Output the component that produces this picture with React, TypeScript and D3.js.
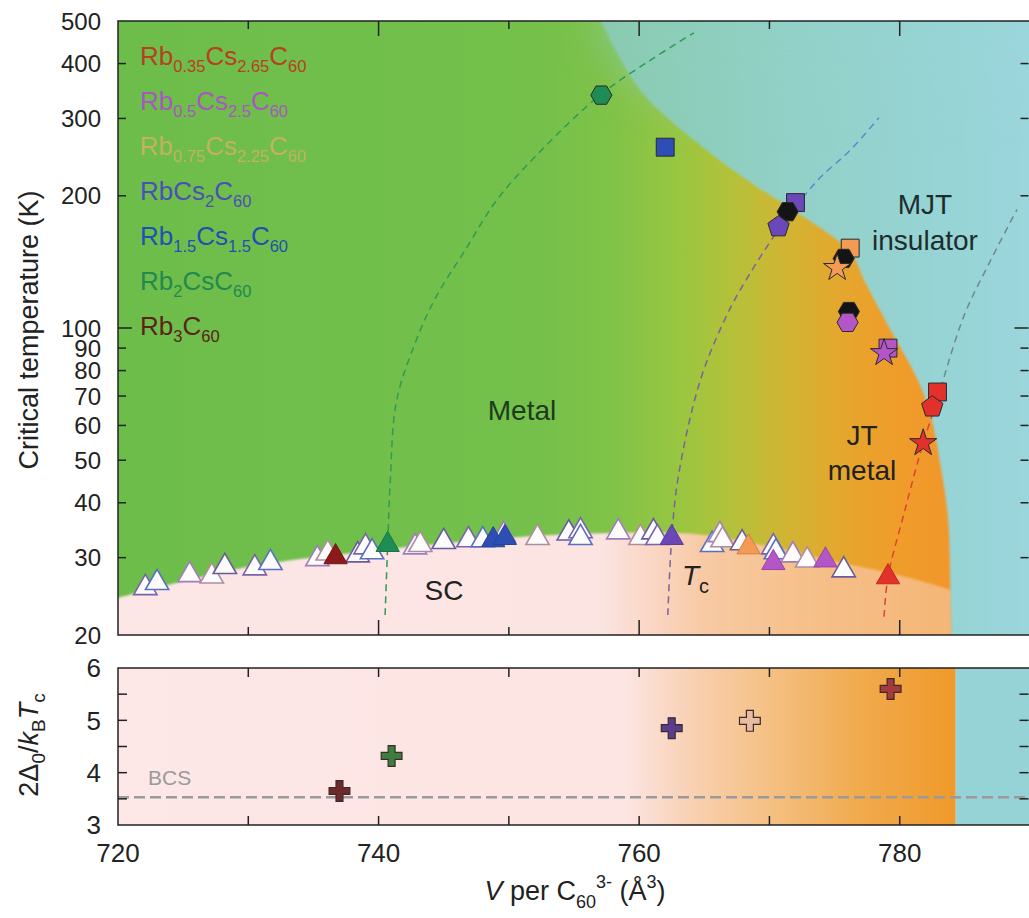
import * as d3 from 'd3';

const FONT = '"Liberation Sans", Arial, Helvetica, sans-serif';
const W = 1029;
const H = 918;

// ---- legend / compounds ----
const compoundKeys = ['Rb0.35', 'Rb0.5', 'Rb0.75', 'Rb1', 'Rb1.5', 'Rb2', 'Rb3'];
// parts starting with "_" are subscripts
const legendParts = [
  ['Rb', '_0.35', 'Cs', '_2.65', 'C', '_60'],
  ['Rb', '_0.5', 'Cs', '_2.5', 'C', '_60'],
  ['Rb', '_0.75', 'Cs', '_2.25', 'C', '_60'],
  ['RbCs', '_2', 'C', '_60'],
  ['Rb', '_1.5', 'Cs', '_1.5', 'C', '_60'],
  ['Rb', '_2', 'CsC', '_60'],
  ['Rb', '_3', 'C', '_60'],
];

// ---- Tc triangles (V per C60, K) ----
const tcOpen: [number, number][] = [
  [722.1, 25.6], [723.0, 26.3], [725.5, 27.4], [727.2, 27.2], [728.2, 28.6], [730.5, 28.4],
  [731.7, 29.2], [735.3, 29.8], [736.1, 30.7], [738.4, 30.4], [739.0, 31.7], [739.5, 30.9],
  [742.8, 31.7], [743.2, 32.1], [745.0, 32.6], [746.9, 32.9], [748.0, 32.9], [749.6, 33.8],
  [752.2, 33.3], [754.6, 34.1], [755.5, 34.5], [755.5, 33.3], [758.4, 34.3], [760.1, 33.3],
  [761.1, 34.3], [761.4, 33.3], [765.6, 32.1], [766.2, 33.8], [766.4, 32.9], [767.9, 32.4],
  [770.3, 31.7], [770.5, 30.9], [771.8, 30.4], [772.9, 29.6], [775.7, 28.1],
];
const tcFilledV = [736.7, 740.7, 748.8, 749.7, 762.5, 768.4, 770.3, 774.3, 779.1];
const tcFilledT = [30.1, 32.1, 32.9, 33.3, 33.3, 31.7, 29.2, 29.6, 27.1];
const tcFilledComp = ['Rb3', 'Rb2', 'Rb1.5', 'Rb1.5', 'Rb1', 'Rb0.75', 'Rb0.5', 'Rb0.5', 'Rb0.35'];

// ---- metal / insulator transition markers ----
const phaseV = [757.1, 762.0, 772.0, 771.4, 770.7, 776.2, 775.7, 775.2, 776.1, 776.0, 779.1, 778.8, 782.9, 782.5, 781.8];
const phaseT = [339, 258, 193, 184, 170, 152, 144, 137, 109, 103, 90, 87.7, 71.5, 66.1, 54.7];
const phaseShape = ['hexagon', 'square', 'square', 'hexagon', 'pentagon', 'square', 'hexagon', 'star',
  'hexagon', 'hexagon', 'square', 'star', 'square', 'pentagon', 'star'];
const phaseComp = ['Rb2', 'Rb1.5', 'Rb1', 'black', 'Rb1', 'Rb0.75', 'black', 'Rb0.75',
  'black', 'Rb0.5', 'Rb0.5', 'Rb0.5', 'Rb0.35', 'Rb0.35', 'Rb0.35'];

// ---- phase boundaries ----
const scBoundary: [number, number][] = [
  [720, 24.3], [730, 28.6], [740, 31.2], [750, 33.3], [756, 34.0], [762, 34.2],
  [765, 33.8], [770, 31.8], [775.5, 29.2], [780.5, 27.1], [784, 25.3],
];
const mjtBoundary: [number, number][] = [
  [756.8, 520], [758.4, 418], [760.4, 339], [764.9, 258], [769.1, 209], [771.8, 186],
  [776.2, 149], [777.3, 128], [779.3, 99], [781.4, 76], [782.4, 62.7], [783.1, 49.3],
  [783.7, 37.1], [783.9, 24.9], [784, 19],
];

// ---- dashed V(T) guide lines ----
const greenLine: [number, number][] = [
  [740.5, 22.2], [740.7, 32.1], [740.9, 45.1], [741.35, 67.5], [742.6, 89.1], [744.3, 116],
  [746.65, 150.5], [749.1, 196], [752.5, 254], [757.0, 339], [760.9, 408], [764.2, 470],
];
const purpleLineLow: [number, number][] = [
  [762.2, 22.2], [762.5, 33.3], [763.0, 45.8], [764.7, 76.1], [766.8, 108], [768.5, 133],
  [770.3, 161], [771.4, 179],
];
const purpleLineHigh: [number, number][] = [
  [771.4, 179], [773.7, 217], [776.2, 254], [778.4, 301],
];
const redLineLow: [number, number][] = [
  [778.8, 22.0], [779.1, 27.1], [780.4, 38.5], [781.8, 54.7], [782.9, 68.6],
];
const redLineHigh: [number, number][] = [
  [782.9, 68.6], [784.9, 106], [787.0, 143], [789.0, 186],
];

// ---- gap ratio panel ----
const gapV = [737.0, 741.0, 762.5, 768.5, 779.3];
const gapRatio = [3.65, 4.32, 4.85, 4.99, 5.6];
const gapComp = ['Rb3', 'Rb2', 'Rb1', 'Rb0.75', 'Rb0.35'];
const bcsValue = 3.53;

const tTicks = [20, 30, 40, 50, 60, 70, 80, 90, 100, 200, 300, 400, 500];
const gTicks = [3, 4, 5, 6];
const gMinor = [3.5, 4, 4.5, 5, 5.5];
const vTicks = [730, 740, 750, 760, 770, 780];
const vLabels = [720, 740, 760, 780];

// ---- styles ----
const compColor: Record<string, string> = {
  'Rb0.35': '#e2302b', 'Rb0.5': '#b455c8', 'Rb0.75': '#f39a55', Rb1: '#6a48b8',
  'Rb1.5': '#2d4fb5', Rb2: '#1e8c55', Rb3: '#8c1a1a', black: '#141414',
};
const legendTextColor = ['#b8401f', '#a956c0', '#e9ad6c', '#4a50b6', '#2150b4', '#23894e', '#5a2418'];
const legendOpacity = [1, 1, 0.7, 1, 1, 1, 1];
const crossColor: Record<string, string> = {
  Rb3: '#6e2a2a', Rb2: '#3e7d3e', Rb1: '#5a3e8e', 'Rb0.75': '#e8bca2', 'Rb0.35': '#a53a3c',
};
const openEdge = ['#7b62ad', '#5b6fc0', '#a07cc0', '#b08d9e', '#6a5aa0'];

const x = d3.scaleLinear().domain([720, 790]).range([118, 1030]);
const yT = d3.scaleLog().domain([20, 500]).range([635, 21]);
const yG = d3.scaleLinear().domain([3, 6]).range([825, 668]);

const symbolHexagon = {
  draw(ctx: d3.Path, size: number) {
    const r = Math.sqrt(size / (1.5 * Math.sqrt(3)));
    for (let i = 0; i < 6; i++) {
      const a = (Math.PI / 3) * i;
      if (i) ctx.lineTo(r * Math.cos(a), r * Math.sin(a));
      else ctx.moveTo(r * Math.cos(a), r * Math.sin(a));
    }
    ctx.closePath();
  },
};
const symbolPentagon = {
  draw(ctx: d3.Path, size: number) {
    const r = Math.sqrt(size / 2.378);
    for (let i = 0; i < 5; i++) {
      const a = -Math.PI / 2 + ((2 * Math.PI) / 5) * i;
      if (i) ctx.lineTo(r * Math.cos(a), r * Math.sin(a));
      else ctx.moveTo(r * Math.cos(a), r * Math.sin(a));
    }
    ctx.closePath();
  },
};
const shapeType: Record<string, any> = {
  hexagon: symbolHexagon, square: d3.symbolSquare, pentagon: symbolPentagon, star: d3.symbolStar,
};
const shapeSize: Record<string, number> = { hexagon: 290, square: 320, pentagon: 300, star: 230 };

const lineT = d3
  .line<[number, number]>()
  .x((d) => x(d[0]))
  .y((d) => yT(d[1]))
  .curve(d3.curveCatmullRom.alpha(0.5));

const gradStops = (arr: [number, string][]) =>
  arr.map(([v, c], i) => <stop key={i} offset={(v - 720) / 70} stopColor={c} />);

const metalStops: [number, string][] = [
  [720, '#6dbd4b'], [752, '#74c04b'], [758, '#80c348'], [763, '#98c640'], [767, '#b4c13a'],
  [771, '#cfb533'], [775, '#e3a82e'], [779, '#ee9e2b'], [784, '#f2962a'],
];
const scStops: [number, string][] = [
  [720, '#fce6e6'], [757, '#fce4e2'], [761, '#fad6c4'], [765, '#f8caa4'], [772, '#f6c18c'], [784, '#f4b676'],
];
const cyanStops: [number, string][] = [
  [752, '#86c7a4'], [762, '#8ccdb8'], [772, '#92d1c8'], [784, '#97d4d6'], [790, '#9bd6dc'],
];
const gapStops: [number, string][] = [
  [720, '#fde7e7'], [759, '#fce5e2'], [762, '#fad8c6'], [766, '#f7cba2'], [771, '#f4bd7c'],
  [777, '#f1aa4c'], [784.2, '#ef9a2a'],
];

const Legend = () => (
  <g fontFamily={FONT}>
    {legendParts.map((parts, i) => (
      <text key={i} x={140} y={65 + i * 45} fontSize={26} fill={legendTextColor[i]} opacity={legendOpacity[i]}>
        {parts.map((p, j) => {
          const sub = p.startsWith('_');
          const prevSub = j > 0 && parts[j - 1].startsWith('_');
          return (
            <tspan key={j} fontSize={sub ? 16.5 : 26} dy={sub ? 7 : prevSub ? -7 : 0}>
              {sub ? p.slice(1) : p}
            </tspan>
          );
        })}
      </text>
    ))}
  </g>
);

export default function App() {
  const scPath = `${lineT(scBoundary)}L${x(784)},${yT(19)}L${x(719)},${yT(19)}L${x(719)},${yT(24.3)}Z`;
  const cyanPath = `${lineT(mjtBoundary)}L${x(792)},${yT(19)}L${x(792)},${yT(520)}Z`;
  const top = { x0: x(720), x1: x(790), y0: yT(500), y1: yT(20) };
  const bot = { y0: yG(6), y1: yG(3) };

  return (
    <svg width={W} height={H} style={{ position: 'absolute', left: 0, top: 0, background: '#fff' }}>
      <defs>
        <linearGradient id="metalGrad" gradientUnits="userSpaceOnUse" x1={x(720)} x2={x(790)} y1={0} y2={0}>
          {gradStops(metalStops)}
        </linearGradient>
        <linearGradient id="scGrad" gradientUnits="userSpaceOnUse" x1={x(720)} x2={x(790)} y1={0} y2={0}>
          {gradStops(scStops)}
        </linearGradient>
        <linearGradient id="cyanGrad" gradientUnits="userSpaceOnUse" x1={x(720)} x2={x(790)} y1={0} y2={0}>
          {gradStops(cyanStops)}
        </linearGradient>
        <linearGradient id="gapGrad" gradientUnits="userSpaceOnUse" x1={x(720)} x2={x(790)} y1={0} y2={0}>
          {gradStops(gapStops)}
        </linearGradient>
        <linearGradient id="fadeGrad" gradientUnits="userSpaceOnUse" x1={0} x2={0} y1={top.y0} y2={top.y0 + 130}>
          <stop offset={0} stopColor="#fff" />
          <stop offset={1} stopColor="#000" />
        </linearGradient>
        <mask id="topFade">
          <rect x={0} y={0} width={W} height={H} fill="url(#fadeGrad)" />
        </mask>
        <filter id="soft" x="-10%" y="-10%" width="120%" height="120%">
          <feGaussianBlur stdDeviation={1.3} />
        </filter>
        <filter id="wide" x="-30%" y="-30%" width="160%" height="160%">
          <feGaussianBlur stdDeviation={22} />
        </filter>
        <clipPath id="topClip">
          <rect x={top.x0} y={top.y0} width={top.x1 - top.x0} height={top.y1 - top.y0} />
        </clipPath>
      </defs>

      {/* ---- top panel background ---- */}
      <g clipPath="url(#topClip)">
        <rect x={top.x0} y={top.y0} width={top.x1 - top.x0} height={top.y1 - top.y0} fill="url(#metalGrad)" />
        <path d={scPath} fill="url(#scGrad)" filter="url(#soft)" />
        <path d={cyanPath} fill="url(#cyanGrad)" filter="url(#soft)" />
        <g mask="url(#topFade)">
          <path d={cyanPath} fill="url(#cyanGrad)" filter="url(#wide)" />
        </g>
      </g>

      {/* ---- dashed guide lines ---- */}
      <g fill="none" strokeWidth={1.5} strokeDasharray="7,5">
        <path d={lineT(greenLine) ?? ''} stroke="#2f9a55" />
        <path d={lineT(purpleLineLow) ?? ''} stroke="#7a62a0" />
        <path d={lineT(purpleLineHigh) ?? ''} stroke="#4f8fcc" />
        <path d={lineT(redLineLow) ?? ''} stroke="#e0403a" />
        <path d={lineT(redLineHigh) ?? ''} stroke="#708a8c" />
      </g>

      {/* ---- Tc triangles ---- */}
      <g>
        {tcOpen.map((d, i) => (
          <path
            key={i}
            d={d3.symbol().type(d3.symbolTriangle).size(235)() ?? ''}
            transform={`translate(${x(d[0])},${yT(d[1])})`}
            fill="#fdfcfc"
            stroke={openEdge[i % openEdge.length]}
            strokeWidth={1.6}
          />
        ))}
        {tcFilledV.map((v, i) => (
          <path
            key={i}
            d={d3.symbol().type(d3.symbolTriangle).size(235)() ?? ''}
            transform={`translate(${x(v)},${yT(tcFilledT[i])})`}
            fill={compColor[tcFilledComp[i]]}
            stroke={d3.color(compColor[tcFilledComp[i]])?.darker(0.5).formatHex()}
            strokeWidth={1}
          />
        ))}
      </g>

      {/* ---- transition markers ---- */}
      <g>
        {phaseV.map((v, i) => (
          <path
            key={i}
            d={d3.symbol().type(shapeType[phaseShape[i]]).size(shapeSize[phaseShape[i]])() ?? ''}
            transform={`translate(${x(v)},${yT(phaseT[i])})`}
            fill={compColor[phaseComp[i]]}
            stroke="#2a2a2a"
            strokeWidth={1}
          />
        ))}
      </g>

      {/* ---- region labels ---- */}
      <g fontFamily={FONT} fontSize={28} textAnchor="middle">
        <text x={522} y={420} fill="#1d3b1f">Metal</text>
        <text x={862} y={445} fill="#222">JT</text>
        <text x={862} y={480} fill="#222">metal</text>
        <text x={925} y={214} fill="#1d2d2d">MJT</text>
        <text x={925} y={250} fill="#1d2d2d">insulator</text>
        <text x={444} y={600} fill="#222">SC</text>
        <text x={682} y={585} textAnchor="start" fill="#222">
          <tspan fontStyle="italic">T</tspan>
          <tspan fontSize={20} dy={8}>c</tspan>
        </text>
      </g>
      <Legend />

      {/* ---- top panel frame & ticks ---- */}
      <g stroke="#222" strokeWidth={1.5} fill="none">
        <rect x={top.x0} y={top.y0} width={top.x1 - top.x0} height={top.y1 - top.y0} />
        {tTicks.slice(1, -1).map((t) => {
          const len = t === 100 ? 14 : 8;
          return (
            <g key={t}>
              <line x1={top.x0} x2={top.x0 + len} y1={yT(t)} y2={yT(t)} />
              <line x1={W - 0.5} x2={W - 0.5 - len} y1={yT(t)} y2={yT(t)} />
            </g>
          );
        })}
        {vTicks.map((v) => {
          const len = v % 20 === 0 ? 15 : 8;
          return (
            <g key={v}>
              <line x1={x(v)} x2={x(v)} y1={top.y1} y2={top.y1 - len} />
              <line x1={x(v)} x2={x(v)} y1={top.y0} y2={top.y0 + len} />
            </g>
          );
        })}
      </g>
      <g fontFamily={FONT} fontSize={24} fill="#222" textAnchor="end">
        {tTicks.map((t) => (
          <text key={t} x={101} y={yT(t)} dy="0.36em">
            {t}
          </text>
        ))}
      </g>
      <text
        transform="translate(38,330) rotate(-90)"
        textAnchor="middle"
        fontFamily={FONT}
        fontSize={27}
        fill="#222"
      >
        Critical temperature (K)
      </text>

      {/* ---- bottom panel ---- */}
      <rect x={x(720)} y={bot.y0} width={x(784.3) - x(720)} height={bot.y1 - bot.y0} fill="url(#gapGrad)" />
      <rect x={x(784.3)} y={bot.y0} width={x(790) - x(784.3)} height={bot.y1 - bot.y0} fill="#95d3d7" />
      <line
        x1={x(720)}
        x2={x(790)}
        y1={yG(bcsValue)}
        y2={yG(bcsValue)}
        stroke="#9a9a9a"
        strokeWidth={2.5}
        strokeDasharray="11,5"
      />
      <text x={148} y={785} fontFamily={FONT} fontSize={21} fill="#9a9a9a">
        BCS
      </text>
      {gapV.map((v, i) => (
        <path
          key={i}
          d={d3.symbol().type(d3.symbolCross).size(240)() ?? ''}
          transform={`translate(${x(v)},${yG(gapRatio[i])})`}
          fill={crossColor[gapComp[i]]}
          stroke="#3a2a2a"
          strokeWidth={1.2}
        />
      ))}
      <g stroke="#222" strokeWidth={1.5} fill="none">
        <rect x={x(720)} y={bot.y0} width={x(790) - x(720)} height={bot.y1 - bot.y0} />
        {gMinor.map((g) => (
          <g key={g}>
            <line x1={x(720)} x2={x(720) + 9} y1={yG(g)} y2={yG(g)} />
            <line x1={W - 0.5} x2={W - 9.5} y1={yG(g)} y2={yG(g)} />
          </g>
        ))}
        {vTicks.map((v) => (
          <g key={v}>
            <line x1={x(v)} x2={x(v)} y1={bot.y1} y2={bot.y1 - 9} />
            <line x1={x(v)} x2={x(v)} y1={bot.y0} y2={bot.y0 + 9} />
          </g>
        ))}
      </g>
      <g fontFamily={FONT} fontSize={26} fill="#222" textAnchor="end">
        {gTicks.map((g) => (
          <text key={g} x={101} y={yG(g)} dy="0.36em">
            {g}
          </text>
        ))}
      </g>
      <g fontFamily={FONT} fontSize={26} fill="#222" textAnchor="middle">
        {vLabels.map((v) => (
          <text key={v} x={x(v)} y={862}>
            {v}
          </text>
        ))}
      </g>
      <text transform="translate(38,745) rotate(-90)" textAnchor="middle" fontFamily={FONT} fontSize={27} fill="#222">
        <tspan>2Δ</tspan>
        <tspan fontSize={19} dy={7}>0</tspan>
        <tspan dy={-7}>/</tspan>
        <tspan fontStyle="italic">k</tspan>
        <tspan fontSize={19} dy={7}>B</tspan>
        <tspan fontStyle="italic" dy={-7}>T</tspan>
        <tspan fontSize={19} dy={7}>c</tspan>
      </text>
      <text x={575} y={900} textAnchor="middle" fontFamily={FONT} fontSize={27} fill="#222">
        <tspan fontStyle="italic">V</tspan>
        <tspan> per C</tspan>
        <tspan fontSize={18} dy={8}>60</tspan>
        <tspan fontSize={18} dy={-20}>3-</tspan>
        <tspan dy={12}> (Å</tspan>
        <tspan fontSize={18} dy={-12}>3</tspan>
        <tspan dy={12}>)</tspan>
      </text>
    </svg>
  );
}
